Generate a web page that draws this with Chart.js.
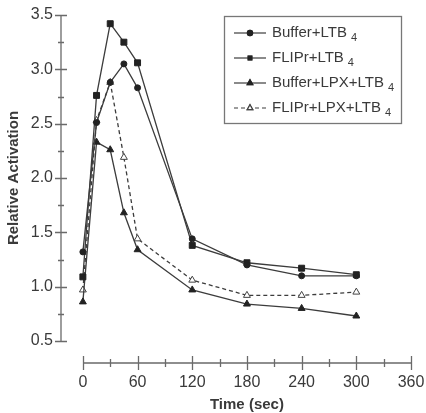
<!DOCTYPE html>
<html>
<head>
<meta charset="utf-8">
<script src="https://cdn.jsdelivr.net/npm/chart.js@4/dist/chart.umd.min.js"></script>
<style>
  html, body { margin: 0; padding: 0; background: #fff; }
</style>
</head>
<body>
<canvas id="activation-chart" width="426" height="413"></canvas>
<script>
const ctx = document.getElementById("activation-chart");

// time points (sec)
var times = [0, 15, 30, 45, 60, 120, 180, 240, 300];

var bufferLTB4 = [1.32, 2.51, 2.88, 3.05, 2.83, 1.44, 1.2, 1.1, 1.1];
var flipLTB4 = [1.09, 2.76, 3.42, 3.25, 3.06, 1.38, 1.22, 1.17, 1.11];
var bufferLPXLTB4 = [0.86, 2.33, 2.26, 1.68, 1.34, 0.97, 0.84, 0.8, 0.73];
var flipLPXLTB4 = [0.97, 2.53, 2.88, 2.19, 1.44, 1.06, 0.92, 0.92, 0.95];

var seriesNames = ["Buffer+LTB", "FLIPr+LTB", "Buffer+LPX+LTB", "FLIPr+LPX+LTB"];

var xTicks = [0, 60, 120, 180, 240, 300, 360];
var yTicks = [0.5, 1.0, 1.5, 2.0, 2.5, 3.0, 3.5];

const lineColor = "#3c3c3c";
const axisColor = "#6a6a6a";
const textColor = "#3a3a3a";
const fontFamily = "'Liberation Sans', Arial, sans-serif";

function pts(values) {
  return values.map((v, i) => ({ x: times[i], y: v }));
}

function series(label, values, style, extra) {
  return Object.assign(
    {
      label: label,
      data: pts(values),
      borderColor: lineColor,
      borderWidth: 1.3,
      pointStyle: style,
      pointBorderColor: "#222",
      pointBackgroundColor: "#222",
      pointBorderWidth: 1,
      tension: 0,
    },
    extra
  );
}

// hand-drawn axes, detached from each other, with crossing tick marks
const detachedAxes = {
  id: "detachedAxes",
  afterDraw(chart) {
    const c = chart.ctx;
    const xs = chart.scales.x;
    const ys = chart.scales.y;
    const left = chart.chartArea.left;
    const axisY = ys.getPixelForValue(0.5) + 22;

    c.save();
    c.strokeStyle = axisColor;
    c.lineWidth = 1.3;

    // y axis
    c.beginPath();
    c.moveTo(left, ys.getPixelForValue(0.5));
    c.lineTo(left, ys.getPixelForValue(3.5));
    for (let v = 0.5; v <= 3.5001; v += 0.25) {
      const py = Math.round(ys.getPixelForValue(v)) + 0.5;
      const major = Math.abs(v * 2 - Math.round(v * 2)) < 0.01;
      const half = major ? 6 : 3;
      c.moveTo(left - half, py);
      c.lineTo(left + half, py);
    }
    c.stroke();

    // x axis
    c.beginPath();
    c.moveTo(xs.getPixelForValue(0), axisY);
    c.lineTo(xs.getPixelForValue(360), axisY);
    for (let v = 0; v <= 360; v += 30) {
      const px = Math.round(xs.getPixelForValue(v)) + 0.5;
      const half = v % 60 === 0 ? 7 : 4;
      c.moveTo(px, axisY - half);
      c.lineTo(px, axisY + half);
    }
    c.stroke();

    // axis titles
    c.fillStyle = textColor;
    c.font = "bold 15px " + fontFamily;
    c.textAlign = "center";
    c.textBaseline = "middle";
    c.fillText("Time (sec)", (xs.getPixelForValue(0) + xs.getPixelForValue(360)) / 2, 405);
    c.translate(14, (ys.getPixelForValue(0.5) + ys.getPixelForValue(3.5)) / 2);
    c.rotate(-Math.PI / 2);
    c.fillText("Relative Activation", 0, 0);
    c.restore();

    // legend box with subscripted labels
    const bx = 224, by = 16, bw = 177, bh = 107;
    c.save();
    c.strokeStyle = "#777";
    c.lineWidth = 1.3;
    c.strokeRect(bx + 0.5, by + 0.5, bw, bh);
    chart.data.datasets.forEach((ds, i) => {
      const ly = by + 17 + i * 25;
      c.strokeStyle = lineColor;
      c.lineWidth = 1.2;
      c.setLineDash(ds.borderDash || []);
      c.beginPath();
      c.moveTo(bx + 10, ly);
      c.lineTo(bx + 42, ly);
      c.stroke();
      c.setLineDash([]);
      Chart.helpers.drawPoint(c, {
        pointStyle: ds.pointStyle,
        radius: ds.pointStyle === "triangle" ? 3.2 : 2.6,
        borderWidth: 1,
        rotation: 0,
      }, bx + 26, ly);
      c.fillStyle = ds.pointBackgroundColor;
      c.strokeStyle = ds.pointBorderColor;
      c.fill();
      c.stroke();

      c.fillStyle = textColor;
      c.font = "15px " + fontFamily;
      c.textAlign = "left";
      c.textBaseline = "middle";
      c.fillText(ds.label, bx + 48, ly);
      const w = c.measureText(ds.label).width;
      c.font = "11px " + fontFamily;
      c.fillText("4", bx + 48 + w + 4, ly + 5);
    });
    c.restore();
  },
};

const myChart = new Chart(ctx, {
  type: "line",
  data: {
    datasets: [
      series(seriesNames[0], bufferLTB4, "circle", { pointRadius: 3 }),
      series(seriesNames[1], flipLTB4, "rect", { pointRadius: 4.2 }),
      series(seriesNames[2], bufferLPXLTB4, "triangle", { pointRadius: 4 }),
      series(seriesNames[3], flipLPXLTB4, "triangle", {
        pointRadius: 4,
        borderDash: [4, 3],
        pointBackgroundColor: "#fff",
        pointBorderColor: "#444",
      }),
    ],
  },
  options: {
    responsive: false,
    animation: false,
    layout: {
      padding: { top: 15, right: 15, bottom: 20, left: 30 },
    },
    plugins: {
      legend: { display: false },
      tooltip: { enabled: false },
    },
    scales: {
      x: {
        type: "linear",
        min: -24,
        max: 360,
        afterBuildTicks: (scale) => {
          scale.ticks = xTicks.map((v) => ({ value: v }));
        },
        afterFit: (scale) => {
          scale.height = 52;
          scale.paddingLeft = 0;
          scale.paddingRight = 0;
        },
        grid: { display: false, drawTicks: false },
        border: { display: false },
        ticks: {
          padding: 32,
          maxRotation: 0,
          color: textColor,
          font: { size: 16, family: fontFamily },
        },
      },
      y: {
        min: 0.5,
        max: 3.5,
        afterBuildTicks: (scale) => {
          scale.ticks = yTicks.map((v) => ({ value: v }));
        },
        afterFit: (scale) => {
          scale.width = 31;
          scale.paddingTop = 0;
          scale.paddingBottom = 0;
        },
        grid: { display: false, drawTicks: false },
        border: { display: false },
        ticks: {
          padding: 8,
          color: textColor,
          font: { size: 16, family: fontFamily },
          callback: (v) => Number(v).toFixed(1),
        },
      },
    },
  },
  plugins: [detachedAxes],
});
</script>
</body>
</html>
